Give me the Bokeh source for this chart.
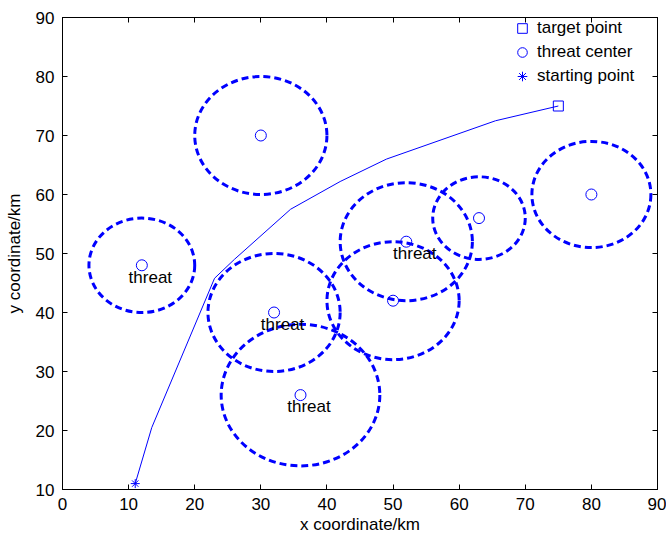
from bokeh.plotting import figure
from bokeh.models import (ColumnDataSource, Range1d, LinearAxis, FixedTicker,
                          Legend, LegendItem)
from bokeh.core.properties import value
from bokeh.embed import file_html
from bokeh.resources import INLINE

# threat zones
threat_x = [30, 12, 32, 36, 52, 50, 63, 80]
threat_y = [70, 48, 40, 26, 52, 42, 56, 60]
threat_r = [10, 8, 10, 12, 10, 10, 7, 9]

# labelled threats
label_x = [10, 30, 34, 50]
label_y = [46, 38, 24, 50]
label_text = ["threat", "threat", "threat", "threat"]

# planned path
path_x = [11, 13.5, 23, 26, 34.5, 42, 49, 65.5, 75]
path_y = [11, 20.5, 45.8, 49, 57.5, 62.2, 66, 72.5, 75]

start_x, start_y = [11], [11]
target_x, target_y = [75], [75]

x_ticks = [0, 10, 20, 30, 40, 50, 60, 70, 80, 90]
y_ticks = [10, 20, 30, 40, 50, 60, 70, 80, 90]

FONT = "Liberation Sans"
FS = "17px"
BLUE = "#0000ff"

p = figure(width=666, height=537, output_backend="svg", toolbar_location=None,
           x_range=Range1d(0, 90), y_range=Range1d(10, 90),
           min_border_left=62, min_border_right=9, min_border_top=17,
           min_border_bottom=48)
p.xgrid.visible = False
p.ygrid.visible = False
p.outline_line_color = "black"
p.outline_line_width = 1

for ax, ticks in ((p.xaxis[0], x_ticks), (p.yaxis[0], y_ticks)):
    ax.ticker = FixedTicker(ticks=ticks)
    ax.major_tick_in = 5
    ax.major_tick_out = 0
    ax.minor_tick_line_color = None
    ax.major_label_text_font = FONT
    ax.major_label_text_font_size = FS
    ax.major_label_text_color = "black"
    ax.axis_label_text_font = FONT
    ax.axis_label_text_font_size = FS
    ax.axis_label_text_font_style = "normal"
    ax.axis_label_text_color = "black"
    ax.axis_line_color = "black"

p.xaxis[0].axis_label = "x coordinate/km"
p.yaxis[0].axis_label = "y coordinate/km"
p.xaxis[0].major_label_standoff = 8
p.xaxis[0].axis_label_standoff = 2
p.yaxis[0].major_label_standoff = 8
p.yaxis[0].axis_label_standoff = 9

top = LinearAxis(ticker=FixedTicker(ticks=x_ticks), major_tick_in=5, major_tick_out=0,
                 minor_tick_line_color=None, major_label_text_font_size="1px",
                 major_label_text_color=None, major_label_standoff=0)
right = LinearAxis(ticker=FixedTicker(ticks=y_ticks), major_tick_in=5, major_tick_out=0,
                   minor_tick_line_color=None, major_label_text_font_size="1px",
                   major_label_text_color=None, major_label_standoff=0)
p.add_layout(top, "above")
p.add_layout(right, "right")

zones = ColumnDataSource(dict(x=threat_x, y=threat_y,
                              d=[2 * r for r in threat_r]))
p.ellipse(x="x", y="y", width="d", height="d", source=zones,
          fill_color=None, line_color=BLUE, line_width=3, line_dash="7 4")

p.line(path_x, path_y, line_color=BLUE, line_width=1)

r_target = p.scatter(target_x, target_y, marker="square", size=10,
                     fill_color=None, line_color=BLUE, line_width=1)
r_center = p.scatter(threat_x, threat_y, marker="circle", size=11,
                     fill_color=None, line_color=BLUE, line_width=1)
r_start = p.scatter(start_x, start_y, marker="asterisk", size=9,
                    line_color=BLUE, line_width=1)

p.text(x=label_x, y=label_y, text=label_text, text_font=value(FONT),
       text_font_size=FS, text_color="black", text_align="left",
       text_baseline="middle")

legend = Legend(items=[LegendItem(label="target point", renderers=[r_target]),
                       LegendItem(label="threat center", renderers=[r_center]),
                       LegendItem(label="starting point", renderers=[r_start])],
                location=(446, 401), padding=0, margin=0, spacing=0,
                glyph_width=28, glyph_height=24, label_height=24,
                label_standoff=1, border_line_color=None,
                background_fill_alpha=0,
                label_text_font=FONT, label_text_font_size=FS,
                label_text_color="black")
p.add_layout(legend, "center")

open("out.html", "w").write(file_html(p, INLINE))
